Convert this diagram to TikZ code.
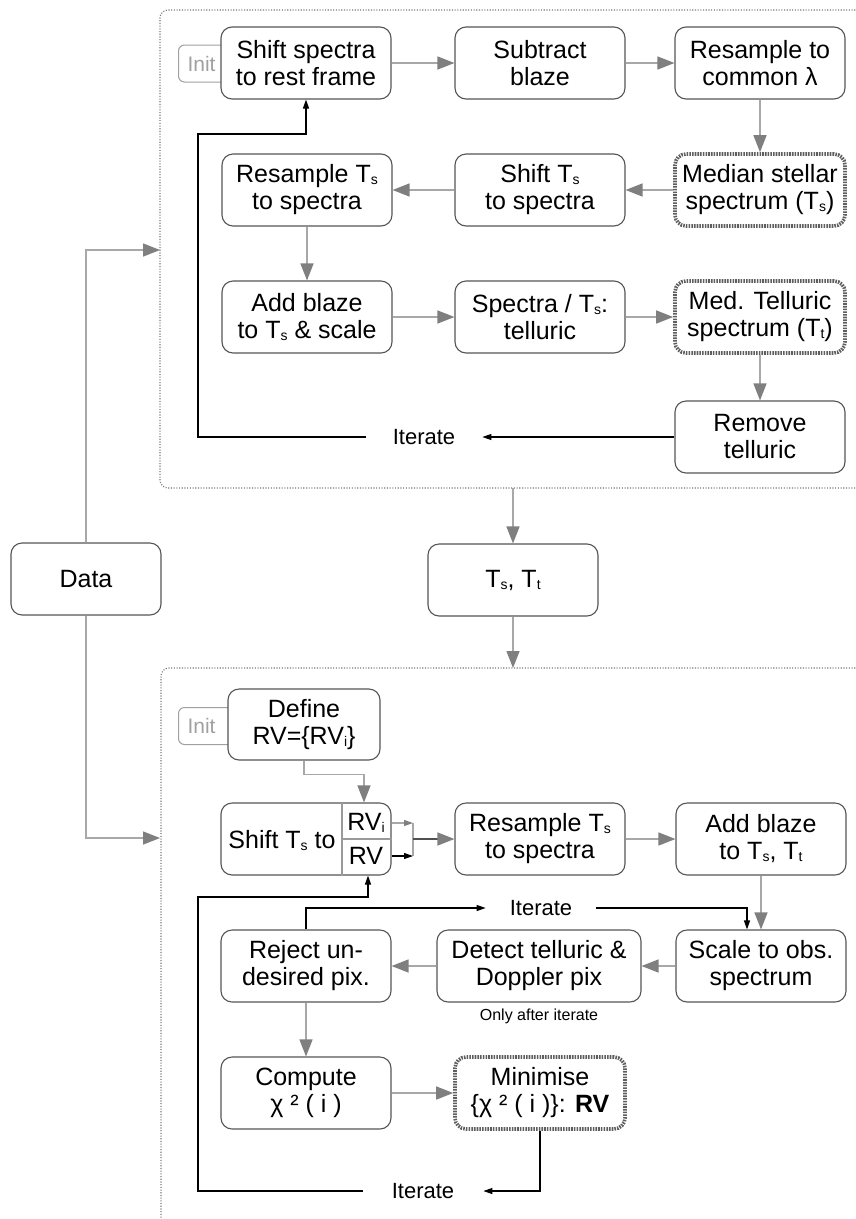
\documentclass[tikz,border=0pt]{standalone}
\usepackage{fontspec}
\setmainfont{Liberation Sans}
\usepackage{tikz}
\usetikzlibrary{arrows.meta}

\definecolor{boxline}{HTML}{555555}
\definecolor{keyline}{HTML}{5E5E5E}
\definecolor{flowline}{HTML}{A8A8A8}
\definecolor{darkline}{HTML}{505050}
\definecolor{tipgray}{HTML}{7F7F7F}
\definecolor{initline}{HTML}{A0A0A0}
\definecolor{divline}{HTML}{9A9A9A}
\definecolor{framegray}{HTML}{7A7A7A}

\newcommand{\boxsize}{\fontsize{25pt}{27pt}\selectfont}
\newcommand{\itsize}{\fontsize{22pt}{24pt}\selectfont}
\newcommand{\initsize}{\fontsize{21pt}{23pt}\selectfont}
\newcommand{\notesize}{\fontsize{16pt}{18pt}\selectfont}
\newcommand{\lo}[1]{\raisebox{-2pt}{\fontsize{14pt}{14pt}\selectfont #1}}

\begin{document}
\begin{tikzpicture}[x=1pt,y=-1pt,
  stepbox/.style={draw=boxline,fill=white,line width=1.1pt,rounded corners=11pt,minimum width=170pt,minimum height=72pt,inner sep=0pt,align=center,font=\boxsize},
  keybox/.style={stepbox,draw=keyline,line width=3.6pt,dash pattern=on 1.6pt off 1.1pt},
  initbox/.style={draw=initline,line width=1pt,rounded corners=6pt,minimum height=37pt,text width=50pt,inner xsep=9pt,inner ysep=0pt,anchor=west,text=initline,font=\initsize},
  flowarrow/.style={draw=flowline,line width=1.4pt,-{Triangle[length=17pt,width=13pt,color=tipgray]}},
  smallflow/.style={draw=flowline,line width=1.2pt,-{Triangle[length=9pt,width=6pt,color=tipgray]}},
  iterline/.style={draw=black,line width=1.1pt,-{Triangle[length=9pt,width=6pt]}},
  itlabel/.style={font=\itsize,inner ysep=2pt},
  boxframe/.style={draw=framegray,line width=1.1pt,dash pattern=on 1.1pt off 1.6pt,rounded corners=8pt}]
  \useasboundingbox (0,0) rectangle (855,1219);

  % dotted frames round the two loops
  \draw[boxframe] (858,10) -- (160,10) -- (160,488) -- (858,488);
  \draw[boxframe] (858,668) -- (161,668) -- (161,1230);

  % template loop
  \node[initbox] (initA) at (178,63.5) {Init};
  \node[stepbox] (shiftsp) at (306,63) {Shift spectra\\to rest frame};
  \node[stepbox] (subblaze) at (540,63) {Subtract\\blaze};
  \node[stepbox] (rescommon) at (760,63) {Resample to\\common λ};
  \node[stepbox] (resampleA) at (307,190) {Resample T\lo{s}\\to spectra};
  \node[stepbox] (shiftTs) at (540,190) {Shift T\lo{s}\\to spectra};
  \node[keybox] (medstar) at (760,190) {Median stellar\\spectrum (T\lo{s})};
  \node[stepbox] (addblazeA) at (307,317) {Add blaze\\to T\lo{s} \& scale};
  \node[stepbox] (divide) at (540,317) {Spectra / T\lo{s}:\\telluric};
  \node[keybox] (medtell) at (760,317) {Med. Telluric\\spectrum (T\lo{t})};
  \node[stepbox] (remove) at (760,437) {Remove\\telluric};
  \node[itlabel,inner xsep=27pt] (iterA) at (424,437) {Iterate};

  \draw[flowarrow] (shiftsp) -- (subblaze);
  \draw[flowarrow] (subblaze) -- (rescommon);
  \draw[flowarrow] (rescommon) -- (medstar);
  \draw[flowarrow] (medstar) -- (shiftTs);
  \draw[flowarrow] (shiftTs) -- (resampleA);
  \draw[flowarrow] (resampleA) -- (addblazeA);
  \draw[flowarrow] (addblazeA) -- (divide);
  \draw[flowarrow] (divide) -- (medtell);
  \draw[flowarrow] (medtell) -- (remove);
  \draw[iterline] (remove) -- (iterA);
  \draw[iterline] (iterA.west) -| (198,134) -| (shiftsp.south);

  % data and templates
  \node[stepbox,minimum width=150pt] (data) at (86,579) {Data};
  \node[stepbox] (tstt) at (513,580) {T\lo{s}, T\lo{t}};
  \coordinate (inA) at (160,250);
  \coordinate (inB) at (160,838);
  \coordinate (outA) at (513,488);
  \coordinate (outB) at (513,668);
  \draw[flowarrow] (data.north) |- (inA);
  \draw[flowarrow] (data.south) |- (inB);
  \draw[flowarrow] (outA) -- (tstt.north);
  \draw[flowarrow] (tstt.south) -- (outB);

  % RV loop
  \node[initbox] (initB) at (178,726) {Init};
  \node[stepbox,minimum width=152pt,minimum height=71pt] (define) at (304,724.5) {Define\\RV=\{RV\lo{i}\}};
  \node[stepbox] (shiftrv) at (306,839) {};
  \draw[divline,line width=1.1pt] ([xshift=36pt]shiftrv.north) -- ([xshift=36pt]shiftrv.south);
  \draw[divline,line width=1.1pt] ([xshift=36pt]shiftrv.center) -- (shiftrv.east);
  \node[font=\boxsize] (shiftlbl) at (282,840) {Shift T\lo{s} to};
  \node[font=\boxsize] (rvi) at (366,823) {RV\lo{i}};
  \node[font=\boxsize] (rvall) at (366,856) {RV};
  \node[stepbox] (resampleB) at (540,839) {Resample T\lo{s}\\to spectra};
  \node[stepbox] (addblazeB) at (761,839) {Add blaze\\to T\lo{s}, T\lo{t}};
  \node[stepbox] (reject) at (306,966) {Reject un-\\desired pix.};
  \node[stepbox,minimum width=204pt] (detect) at (539,966) {Detect telluric \&\\Doppler pix};
  \node[font=\notesize] (note) at (539,1016) {Only after iterate};
  \node[stepbox] (scale) at (761,966) {Scale to obs.\\spectrum};
  \node[stepbox] (compute) at (306,1093) {Compute\\χ ² ( i )};
  \node[keybox] (minimise) at (540,1093) {Minimise\\\{χ ² ( i )\}: \textbf{RV}};
  \node[itlabel,inner xsep=24pt] (iterB) at (541,908) {Iterate};
  \node[itlabel,inner xsep=29pt] (iterC) at (423,1191) {Iterate};

  \coordinate (join) at (413,839);
  \draw[flowarrow] (define.south) -- ++(0,14) -| ([xshift=58pt]shiftrv.north);
  \draw[flowline,line width=1.2pt] (join |- rvi) -- (join |- rvall);
  \draw[smallflow] (shiftrv.east |- rvi) -- (join |- rvi);
  \draw[iterline] (shiftrv.east |- rvall) -- (join |- rvall);
  \draw[flowarrow,draw=darkline] (join) -- (resampleB);
  \draw[flowarrow] (resampleB) -- (addblazeB);
  \draw[flowarrow] (addblazeB) -- (scale);
  \draw[flowarrow] (scale) -- (detect);
  \draw[flowarrow] (detect) -- (reject);
  \draw[flowarrow] (reject) -- (compute);
  \draw[flowarrow] (compute) -- (minimise);
  \draw[iterline] (reject.north) |- (iterB);
  \draw[iterline] (iterB) -| ([xshift=-14pt]scale.north);
  \draw[iterline] (minimise.south) |- (iterC);
  \draw[iterline] (iterC) -| (198,897) -| ([xshift=62pt]shiftrv.south);
\end{tikzpicture}
\end{document}
